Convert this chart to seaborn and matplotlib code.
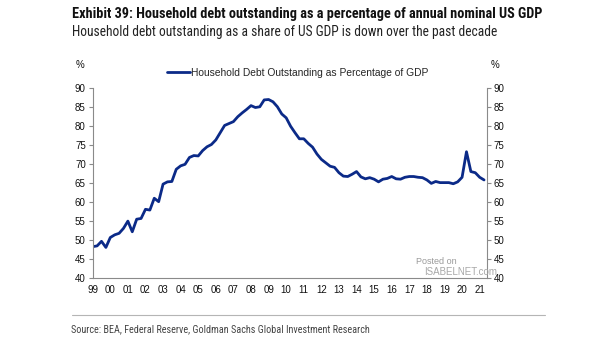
import matplotlib
matplotlib.use("Agg")
import matplotlib.pyplot as plt
from matplotlib import font_manager
import seaborn as sns
import pandas as pd

# Household debt outstanding as % of nominal GDP, quarterly 1999Q1-2021Q2
years = list(range(1999, 2022))
debt_pct_gdp = [
    48.3, 48.5, 49.7, 48.1,   # 1999
    50.7, 51.4, 51.8, 53.1,   # 2000
    55.0, 52.2, 55.5, 55.7,   # 2001
    58.1, 57.9, 61.0, 60.1,   # 2002
    64.7, 65.3, 65.4, 68.6,   # 2003
    69.5, 69.9, 71.7, 72.2,   # 2004
    72.1, 73.5, 74.5, 75.1,   # 2005
    76.3, 78.2, 80.1, 80.6,   # 2006
    81.1, 82.4, 83.4, 84.3,   # 2007
    85.3, 84.8, 85.0, 86.8,   # 2008
    86.9, 86.3, 85.0, 83.1,   # 2009
    82.1, 79.9, 78.2, 76.6,   # 2010
    76.6, 75.4, 74.4, 72.6,   # 2011
    71.2, 70.3, 69.4, 69.1,   # 2012
    67.7, 66.8, 66.7, 67.3,   # 2013
    68.0, 66.6, 66.1, 66.4,   # 2014
    66.0, 65.3, 66.0, 66.2,   # 2015
    66.7, 66.1, 66.0, 66.5,   # 2016
    66.7, 66.7, 66.5, 66.4,   # 2017
    65.8, 64.9, 65.4, 65.1,   # 2018
    65.1, 65.1, 64.8, 65.3,   # 2019
    66.5, 73.2, 68.0, 67.7,   # 2020
    66.5, 65.8,               # 2021
]
year_labels = [f"{y % 100:02d}" for y in years]
y_ticks = list(range(40, 95, 5))

series_name = "Household Debt Outstanding as Percentage of GDP"
title = "Exhibit 39: Household debt outstanding as a percentage of annual nominal US GDP"
subtitle = "Household debt outstanding as a share of US GDP is down over the past decade"
source = "Source: BEA, Federal Reserve, Goldman Sachs Global Investment Research"

quarter_pos = [1999 + i * 0.25 for i in range(len(debt_pct_gdp))]
df = pd.DataFrame({"date": quarter_pos, "value": debt_pct_gdp})

sns.set_theme(style="white")
plt.rcParams["font.family"] = ["Liberation Sans", "DejaVu Sans"]

installed = {f.name for f in font_manager.fontManager.ttflist}
heading_font = next((f for f in ["Roboto Condensed", "Liberation Sans Narrow",
                                 "Roboto", "Liberation Sans"] if f in installed),
                    "DejaVu Sans")

W, H = 605, 341
fig = plt.figure(figsize=(W / 100, H / 100), dpi=100)
fig.patch.set_facecolor("white")

left, right, top, bottom = 92.7, 486.7, 87.7, 278.3
ax = fig.add_axes([left / W, 1 - bottom / H, (right - left) / W, (bottom - top) / H])

line_color = "#0b2a88"
sns.lineplot(data=df, x="date", y="value", ax=ax, color=line_color,
             linewidth=2.0, label=series_name, legend=False)

ax.set_xlim(1999, 2021.4)
ax.set_ylim(40, 90)
ax.set_xticks(years)
ax.set_xticklabels(year_labels)
ax.set_yticks(y_ticks)
ax.set_xlabel("")
ax.set_ylabel("")

spine_color = "#8a8a8a"
for s in ["top", "right"]:
    ax.spines[s].set_visible(False)
for s in ["left", "bottom"]:
    ax.spines[s].set_color(spine_color)
    ax.spines[s].set_linewidth(0.8)
ax.tick_params(axis="both", which="major", direction="out", length=3, width=0.8,
               color=spine_color, labelsize=7, labelcolor="#111111", pad=2)

ax2 = ax.twinx()
ax2.set_ylim(40, 90)
ax2.set_yticks(y_ticks)
for s in ["top", "left", "bottom"]:
    ax2.spines[s].set_visible(False)
ax2.spines["right"].set_color(spine_color)
ax2.spines["right"].set_linewidth(0.8)
ax2.tick_params(axis="y", direction="out", length=3, width=0.8, color=spine_color,
                labelsize=7, labelcolor="#111111", pad=2)

# unit markers above each axis
fig.text(80 / W, 1 - 65 / H, "%", fontsize=7, ha="center", va="center", color="#111111")
fig.text(495 / W, 1 - 65 / H, "%", fontsize=7, ha="center", va="center", color="#111111")

# legend
handles, labels = ax.get_legend_handles_labels()
fig.legend(handles, labels, loc="center left", bbox_to_anchor=(167 / W, 1 - 73 / H),
           frameon=False, fontsize=7.4, handlelength=2.2, handletextpad=0.1,
           borderaxespad=0, borderpad=0)

renderer = fig.canvas.get_renderer()


def fitted_text(x_px, y_px, s, width_px, **kw):
    """Place a left-aligned heading and size it to span width_px."""
    t = fig.text(x_px / W, 1 - y_px / H, s, ha="left", va="center",
                 family=[heading_font, "DejaVu Sans"], **kw)
    w = t.get_window_extent(renderer=renderer).width
    t.set_fontsize(t.get_fontsize() * width_px / w)
    return t


fitted_text(72, 14, title, 469, fontsize=10, fontweight="bold", color="#111111")
fitted_text(72, 32, subtitle, 424, fontsize=10, color="#222222")

# watermark
fig.text(416 / W, 1 - 261 / H, "Posted on", fontsize=6.5, color="#9a9a9a",
         ha="left", va="center")
fig.text(424 / W, 1 - 272 / H, "ISABELNET.com", fontsize=7, color="#a8a8a8",
         ha="left", va="center")

# footer rule and source
fig.add_artist(plt.Line2D([72 / W, 545 / W], [1 - 315 / H, 1 - 315 / H],
                          color="#b5b5b5", linewidth=0.8))
fitted_text(71, 329, source, 295, fontsize=7.5, color="#444444")

fig.savefig("out.png", dpi=100, facecolor="white")
